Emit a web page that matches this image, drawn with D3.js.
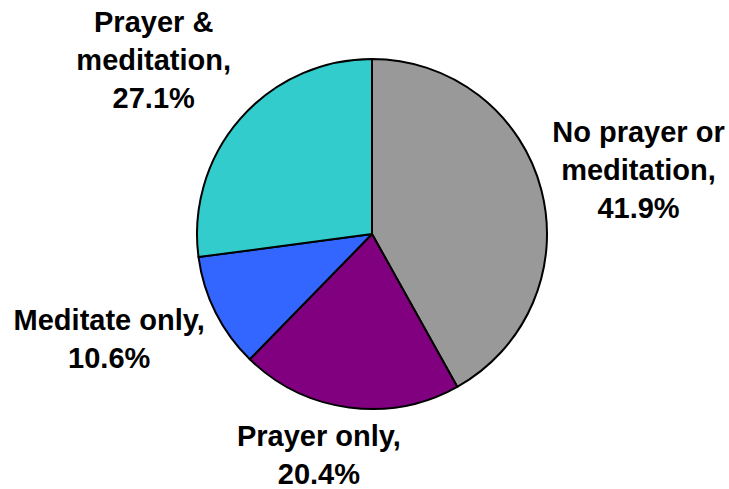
<!DOCTYPE html>
<html>
<head>
<meta charset="utf-8">
<script src="https://cdn.jsdelivr.net/npm/d3@7"></script>
<style>
  html, body { margin: 0; padding: 0; background: #fff; }
  svg { display: block; }
  .lbl { font-family: "Liberation Sans", Arial, sans-serif; font-weight: bold; font-size: 29px; fill: #000; }
</style>
</head>
<body>
<svg width="729" height="489"></svg>
<script>
"use strict";

// slices in drawing order, clockwise from 12 o'clock
var categories = ["No prayer or meditation", "Prayer only", "Meditate only", "Prayer & meditation"],
    values = [41.9, 20.4, 10.6, 27.1],
    labelLines = [
      ["No prayer or", "meditation,", "41.9%"],
      ["Prayer only,", "20.4%"],
      ["Meditate only,", "10.6%"],
      ["Prayer &", "meditation,", "27.1%"]
    ],
    colors = ["#999999", "#800080", "#3366FF", "#33CCCC"];

var svg = d3.select("svg"),
    width = +svg.attr("width"),
    height = +svg.attr("height");

var cx = 372, cy = 234, radius = 175;
var lineH = 38, pad = 10;
// small hand adjustments so labels sit where the original put them
var nudge = [[4, -3], [-18, 0], [-12, 5], [-21, -15]];

var data = categories.map(function(c, i) {
  return { name: c, value: values[i], lines: labelLines[i], color: colors[i], i: i };
});

var pie = d3.pie()
    .sort(null)
    .value(function(d) { return d.value; });

var arc = d3.arc()
    .innerRadius(0)
    .outerRadius(radius);

var g = svg.append("g")
    .attr("transform", "translate(" + cx + "," + cy + ")");

var arcs = pie(data);

g.selectAll("path.slice")
  .data(arcs)
  .enter().append("path")
    .attr("class", "slice")
    .attr("d", arc)
    .attr("fill", function(d) { return d.data.color; })
    .attr("stroke", "#000")
    .attr("stroke-width", 2)
    .attr("stroke-linejoin", "round");

var labels = g.selectAll("text.lbl")
  .data(arcs)
  .enter().append("text")
    .attr("class", "lbl")
    .attr("text-anchor", "middle");

labels.each(function(d) {
  var t = d3.select(this);
  d.data.lines.forEach(function(s) {
    t.append("tspan").text(s);
  });
  // widest line decides how far the box is pushed out
  var maxW = 0;
  t.selectAll("tspan").each(function() {
    maxW = Math.max(maxW, this.getComputedTextLength());
  });
  var n = d.data.lines.length,
      h = n * lineH,
      a = (d.startAngle + d.endAngle) / 2,
      sx = Math.sin(a), sy = -Math.cos(a),
      bx = sx * (radius + pad) + sx * maxW / 2 + nudge[d.data.i][0],
      by = sy * (radius + pad) + sy * h / 2 + nudge[d.data.i][1];
  var firstBase = by - (n - 1) * lineH / 2 + 10;
  t.selectAll("tspan")
    .attr("x", bx)
    .attr("y", function(s, k) { return firstBase + k * lineH; });
});
</script>
</body>
</html>
